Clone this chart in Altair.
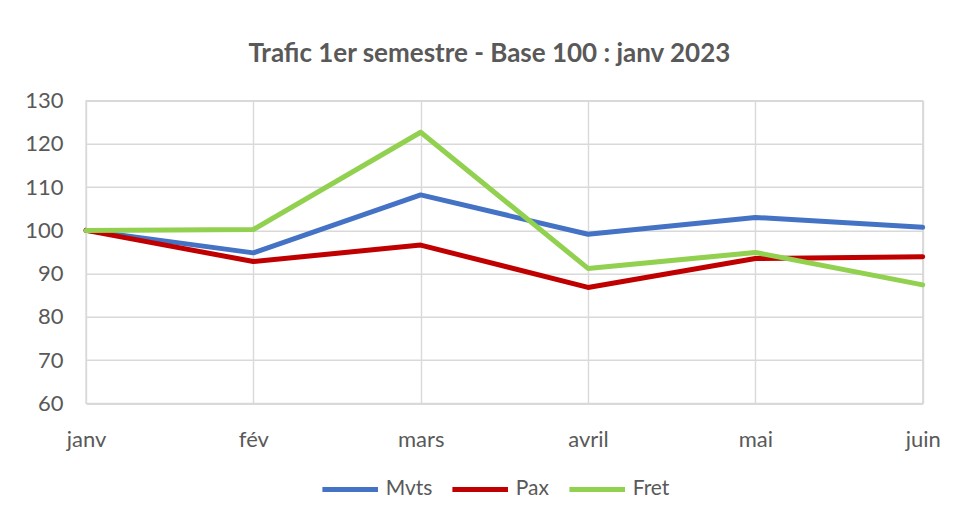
import altair as alt
import pandas as pd

mois = ["janv", "fév", "mars", "avril", "mai", "juin"]
mvts = [100, 94.8, 108.2, 99.1, 103.0, 100.7]
pax = [100, 92.8, 96.6, 86.8, 93.5, 93.9]
fret = [100, 100.2, 122.7, 91.2, 94.9, 87.4]
series = ["Mvts", "Pax", "Fret"]
colors = ["#4472C4", "#C00000", "#92D050"]
y_ticks = [60, 70, 80, 90, 100, 110, 120, 130]

rows = []
for name, vals in zip(series, [mvts, pax, fret]):
    for m, v in zip(mois, vals):
        rows.append({"mois": m, "valeur": v, "serie": name})
df = pd.DataFrame(rows)

FONT = "Lato"
GREY = "#595959"

chart = alt.Chart(df).mark_line(strokeWidth=5, strokeCap="round", strokeJoin="round").encode(
    x=alt.X("mois:N", sort=mois,
            scale=alt.Scale(type="point", padding=0),
            axis=alt.Axis(title=None, labelAngle=0, ticks=False, tickSize=0, domain=False,
                          grid=True, gridColor="#d9d9d9", gridWidth=1.4,
                          labelFont=FONT, labelFontSize=22, labelColor=GREY, labelPadding=26)),
    y=alt.Y("valeur:Q",
            scale=alt.Scale(domain=[60, 130], nice=False, zero=False),
            axis=alt.Axis(title=None, values=y_ticks, ticks=False, tickSize=0, domain=False,
                          grid=True, gridColor="#d9d9d9", gridWidth=1.4,
                          labelFont=FONT, labelFontSize=22, labelColor=GREY, labelPadding=23)),
    color=alt.Color("serie:N", sort=series,
                    scale=alt.Scale(domain=series, range=colors),
                    legend=alt.Legend(title=None, orient="none", direction="horizontal",
                                      legendX=233.7, legendY=358, padding=0,
                                      symbolType="stroke", symbolSize=3090, symbolStrokeWidth=5,
                                      labelFont=FONT, labelFontSize=21, labelColor=GREY,
                                      labelOffset=5, columnPadding=9)),
    detail="serie:N",
).properties(
    width=836.7,
    height=302.6,
    padding={"left": 78, "top": 92.7, "right": 23, "bottom": 100},
    autosize=alt.AutoSizeParams(type="none"),
    title=alt.TitleParams("Trafic 1er semestre - Base 100 : janv 2023",
                          font=FONT, fontSize=26, fontWeight="bold", color=GREY,
                          anchor="middle", frame="group", dx=-15,
                          baseline="alphabetic", offset=2),
    background="white",
).configure_view(
    stroke="#d9d9d9", strokeWidth=1.4
)

chart.save("out.html", embed_options={"renderer": "svg", "actions": False})
